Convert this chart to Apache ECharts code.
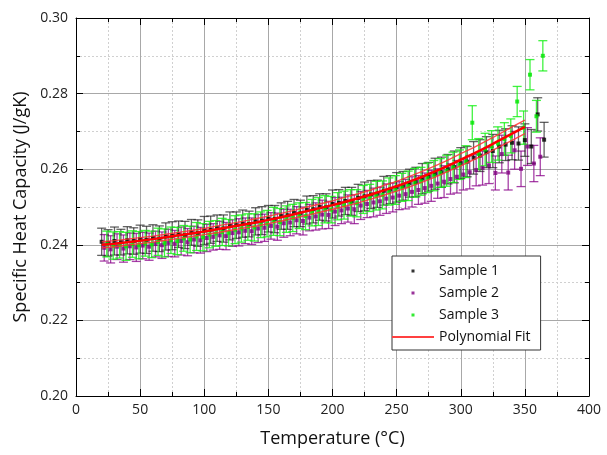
<!DOCTYPE html>
<html>
<head>
<meta charset="utf-8">
<script src="https://cdn.jsdelivr.net/npm/echarts@6.0.0/dist/echarts.min.js"></script>
<style>
  html, body { margin: 0; padding: 0; background: #fff; }
  #chart { width: 607px; height: 455px; }
</style>
</head>
<body>
<div id="chart"></div>
<script>
// temperatures (°C) for each sample
const temps1 = [20,25,30,35,40,45,50,55,60,65,70,75,80,85,90,95,100,105,110,115,
  120,125,130,135,140,145,150,155,160,165,170,175,180,185,190,195,200,205,210,215,
  220,225,230,235,240,245,250,255,260,265,270,275,280,285,290,295,300,305,310,315,
  320,325,330,335,340,345,350,355,360,365];
const temps2 = [22,27,32,37,42,47,52,57,62,67,72,77,82,87,92,97,102,107,112,117,
  122,127,132,137,142,147,152,157,162,167,172,177,182,187,192,197,202,207,212,217,
  222,227,232,237,242,247,252,257,262,267,272,277,282,287,292,297,302,307,312,317,
  322,327,332,337,342,347,352,357,362];
const temps3 = [24,29,34,39,44,49,54,59,64,69,74,79,84,89,94,99,104,109,114,119,
  124,129,134,139,144,149,154,159,164,169,174,179,184,189,194,199,204,209,214,219,
  224,229,234,239,244,249,254,259,264,269,274,279,284,289,294,299,304,309,314,319,
  324,329,334,339,344,349,354,359,364];

// specific heat capacity (J/gK)
const sample1 = [.2408,.2405,.2410,.2407,.2412,.2410,.2415,.2413,.2418,.2416,
  .2422,.2424,.2428,.2426,.2433,.2431,.2438,.2440,.2444,.2443,
  .2450,.2452,.2456,.2455,.2462,.2464,.2469,.2468,.2476,.2478,
  .2484,.2483,.2492,.2494,.2500,.2499,.2508,.2511,.2516,.2515,
  .2524,.2528,.2533,.2535,.2543,.2546,.2552,.2556,.2563,.2566,
  .2575,.2580,.2588,.2592,.2600,.2606,.2616,.2620,.2630,.2636,
  .2645,.2648,.2660,.2665,.2670,.2668,.2677,.2660,.2745,.2678];
const sample2 = [.2392,.2388,.2395,.2390,.2396,.2393,.2398,.2395,.2402,.2399,
  .2405,.2403,.2410,.2407,.2414,.2412,.2418,.2421,.2425,.2423,
  .2431,.2433,.2437,.2436,.2443,.2445,.2450,.2448,.2457,.2459,
  .2465,.2463,.2472,.2475,.2480,.2479,.2488,.2491,.2496,.2494,
  .2504,.2508,.2512,.2515,.2522,.2525,.2530,.2534,.2540,.2545,
  .2550,.2556,.2562,.2567,.2574,.2580,.2586,.2592,.2598,.2603,
  .2610,.2590,.2640,.2591,.2650,.2601,.2660,.2615,.2633];
const sample3 = [.2402,.2398,.2400,.2396,.2402,.2399,.2404,.2401,.2408,.2405,
  .2412,.2410,.2417,.2414,.2422,.2420,.2427,.2430,.2434,.2432,
  .2440,.2443,.2447,.2446,.2453,.2456,.2462,.2460,.2468,.2471,
  .2477,.2476,.2485,.2488,.2494,.2493,.2502,.2505,.2511,.2510,
  .2520,.2524,.2530,.2532,.2541,.2545,.2552,.2556,.2564,.2568,
  .2577,.2583,.2590,.2596,.2605,.2612,.2620,.2723,.2640,.2652,
  .2660,.2668,.2680,.2688,.2779,.2710,.2850,.2740,.2900];

// error bar half-widths
const err1 = [.0036,.0035,.0037,.0034,.0036,.0035,.0037,.0036,.0035,.0034,
  .0036,.0037,.0035,.0036,.0034,.0035,.0037,.0036,.0035,.0036,
  .0037,.0035,.0036,.0034,.0036,.0037,.0035,.0036,.0035,.0037,
  .0036,.0035,.0037,.0036,.0035,.0036,.0037,.0035,.0036,.0037,
  .0036,.0038,.0037,.0036,.0038,.0037,.0039,.0038,.0037,.0039,
  .0040,.0038,.0041,.0040,.0039,.0042,.0041,.0040,.0043,.0042,
  .0041,.0044,.0043,.0042,.0045,.0044,.0043,.0045,.0044,.0046];
const err2 = [.0035,.0036,.0034,.0036,.0035,.0037,.0035,.0036,.0034,.0035,
  .0036,.0035,.0037,.0036,.0035,.0034,.0036,.0035,.0037,.0036,
  .0035,.0036,.0034,.0035,.0037,.0036,.0035,.0036,.0037,.0035,
  .0036,.0037,.0035,.0036,.0038,.0036,.0037,.0035,.0036,.0038,
  .0037,.0036,.0038,.0037,.0039,.0038,.0037,.0039,.0040,.0038,
  .0040,.0041,.0039,.0042,.0040,.0043,.0041,.0044,.0042,.0045,
  .0048,.0045,.0050,.0046,.0050,.0047,.0050,.0048,.0050];
const err3 = [.0034,.0036,.0035,.0037,.0035,.0036,.0034,.0035,.0036,.0037,
  .0035,.0036,.0034,.0035,.0037,.0036,.0035,.0034,.0036,.0035,
  .0037,.0036,.0035,.0036,.0034,.0035,.0037,.0036,.0035,.0036,
  .0034,.0036,.0035,.0037,.0036,.0035,.0036,.0037,.0035,.0036,
  .0037,.0036,.0038,.0037,.0036,.0038,.0037,.0039,.0038,.0037,
  .0039,.0040,.0038,.0041,.0040,.0039,.0042,.0045,.0041,.0043,
  .0042,.0044,.0043,.0045,.0040,.0044,.0040,.0042,.0040];

// polynomial fit and its band
const fitTemps = [20,30,40,50,60,70,80,90,100,110,120,130,140,150,160,170,180,190,
  200,210,220,230,240,250,260,270,280,290,300,310,320,330,340,350];
const fitValues = [.2400,.2403,.2407,.2411,.2415,.2420,.2425,.2430,.2435,.2441,.2447,.2453,
  .2459,.2466,.2473,.2481,.2489,.2497,.2505,.2514,.2523,.2533,.2544,.2555,.2567,.2580,
  .2594,.2609,.2625,.2641,.2658,.2676,.2694,.2712];
const fitUpper = [.2408,.2411,.2415,.2419,.2423,.2428,.2433,.2438,.2443,.2450,.2456,.2462,
  .2469,.2476,.2483,.2491,.2500,.2508,.2516,.2526,.2535,.2545,.2557,.2568,.2581,.2594,
  .2609,.2624,.2641,.2657,.2675,.2693,.2712,.2730];
const fitLower = [.2392,.2395,.2399,.2403,.2407,.2412,.2417,.2422,.2427,.2432,.2438,.2444,
  .2449,.2456,.2463,.2471,.2478,.2486,.2494,.2502,.2511,.2521,.2531,.2542,.2553,.2566,
  .2579,.2594,.2609,.2625,.2641,.2659,.2676,.2694];

const xTicks = { min: 0, max: 400, step: 50 };
const yTicks = { min: 0.2, max: 0.3, step: 0.02 };

const FONT = '"Open Sans", sans-serif';
const colors = { s1: '#000000', s2: '#800080', s3: '#00e600', fit: '#ff0000' };

const zip = (xs, ys, es) => xs.map((x, i) => es ? [x, ys[i], es[i]] : [x, ys[i]]);

function errorBars(color, alpha) {
  return function (params, api) {
    const x = api.value(0);
    const y = api.value(1);
    const e = api.value(2);
    const hi = api.coord([x, y + e]);
    const lo = api.coord([x, y - e]);
    const w = 4.5;
    const style = { stroke: color, lineWidth: 1.3, opacity: alpha };
    return {
      type: 'group',
      children: [
        { type: 'line', shape: { x1: hi[0], y1: hi[1], x2: lo[0], y2: lo[1] }, style },
        { type: 'line', shape: { x1: hi[0] - w, y1: hi[1], x2: hi[0] + w, y2: hi[1] }, style },
        { type: 'line', shape: { x1: lo[0] - w, y1: lo[1], x2: lo[0] + w, y2: lo[1] }, style },
      ],
    };
  };
}

const frameAxis = {
  axisLine: { show: true, onZero: false, lineStyle: { color: '#000', width: 1 } },
  axisTick: { show: true, inside: true, length: 7, lineStyle: { color: '#000' } },
  minorTick: { show: true, splitNumber: 2, length: 4, lineStyle: { color: '#000' } },
};

const chart = echarts.init(document.getElementById('chart'));

const square = 'path://M0,0L1,0L1,1L0,1Z';

const option = {
  animation: false,
  backgroundColor: '#fff',
  grid: { left: 76, right: 18, top: 18, bottom: 59 },
  legend: {
    left: 392,
    top: 256,
    orient: 'vertical',
    backgroundColor: '#fff',
    borderColor: '#333',
    borderWidth: 1,
    borderRadius: 0,
    padding: [8, 10, 6, 0],
    itemGap: 8,
    itemWidth: 42,
    itemHeight: 3,
    textStyle: { fontFamily: FONT, fontSize: 14, color: '#111' },
    data: [
      { name: 'Sample 1', icon: square },
      { name: 'Sample 2', icon: square },
      { name: 'Sample 3', icon: square },
      { name: 'Polynomial Fit', icon: 'path://M0,0L20,0L20,1L0,1Z', itemStyle: { color: '#ff4040' } },
    ],
  },
  xAxis: [
    {
      type: 'value',
      position: 'bottom',
      min: xTicks.min,
      max: xTicks.max,
      interval: xTicks.step,
      ...frameAxis,
      axisLabel: { fontFamily: FONT, fontSize: 14, color: '#222', margin: 7 },
      splitLine: { show: true, lineStyle: { color: '#a8a8a8', width: 1 } },
      minorSplitLine: { show: true, lineStyle: { color: '#d0d0d0', type: [2, 2] } },
      name: 'Temperature (°C)',
      nameLocation: 'middle',
      nameGap: 34,
      nameTextStyle: { fontFamily: FONT, fontSize: 18, color: '#111' },
    },
    {
      type: 'value',
      position: 'top',
      min: xTicks.min,
      max: xTicks.max,
      interval: xTicks.step,
      ...frameAxis,
      axisLabel: { show: false },
      splitLine: { show: false },
    },
  ],
  yAxis: [
    {
      type: 'value',
      position: 'left',
      min: yTicks.min,
      max: yTicks.max,
      interval: yTicks.step,
      ...frameAxis,
      axisLabel: {
        fontFamily: FONT, fontSize: 14, color: '#222', margin: 8,
        formatter: (v) => v.toFixed(2),
      },
      splitLine: { show: true, lineStyle: { color: '#a8a8a8', width: 1 } },
      minorSplitLine: { show: true, lineStyle: { color: '#d0d0d0', type: [2, 2] } },
      name: 'Specific Heat Capacity (J/gK)',
      nameLocation: 'middle',
      nameGap: 43,
      nameTextStyle: { fontFamily: FONT, fontSize: 18, color: '#111' },
    },
    {
      type: 'value',
      position: 'right',
      min: yTicks.min,
      max: yTicks.max,
      interval: yTicks.step,
      ...frameAxis,
      axisLabel: { show: false },
      splitLine: { show: false },
    },
  ],
  series: [
    {
      name: 'Sample 2 err', type: 'custom', renderItem: errorBars('#8a008a', 0.75),
      data: zip(temps2, sample2, err2), encode: { x: 0, y: 1 }, z: 2,
    },
    {
      name: 'Sample 1 err', type: 'custom', renderItem: errorBars('#222', 0.7),
      data: zip(temps1, sample1, err1), encode: { x: 0, y: 1 }, z: 2,
    },
    {
      name: 'Sample 3 err', type: 'custom', renderItem: errorBars('#11f011', 0.8),
      data: zip(temps3, sample3, err3), encode: { x: 0, y: 1 }, z: 2,
    },
    {
      name: 'Sample 2', type: 'scatter', symbol: 'rect', symbolSize: 4,
      itemStyle: { color: colors.s2 }, data: zip(temps2, sample2), z: 3,
    },
    {
      name: 'Sample 1', type: 'scatter', symbol: 'rect', symbolSize: 4,
      itemStyle: { color: colors.s1 }, data: zip(temps1, sample1), z: 3,
    },
    {
      name: 'Sample 3', type: 'scatter', symbol: 'rect', symbolSize: 4,
      itemStyle: { color: colors.s3 }, data: zip(temps3, sample3), z: 3,
    },
    {
      name: 'Fit upper', type: 'line', symbol: 'none', z: 4,
      lineStyle: { color: '#ff3030', width: 1.4, opacity: 0.85 },
      data: zip(fitTemps, fitUpper),
    },
    {
      name: 'Fit lower', type: 'line', symbol: 'none', z: 4,
      lineStyle: { color: '#ff3030', width: 1.4, opacity: 0.85 },
      data: zip(fitTemps, fitLower),
    },
    {
      name: 'Polynomial Fit', type: 'line', symbol: 'none', z: 5,
      color: colors.fit,
      lineStyle: { color: colors.fit, width: 2.5 },
      data: zip(fitTemps, fitValues),
    },
  ],
};

chart.setOption(option);
</script>
</body>
</html>
